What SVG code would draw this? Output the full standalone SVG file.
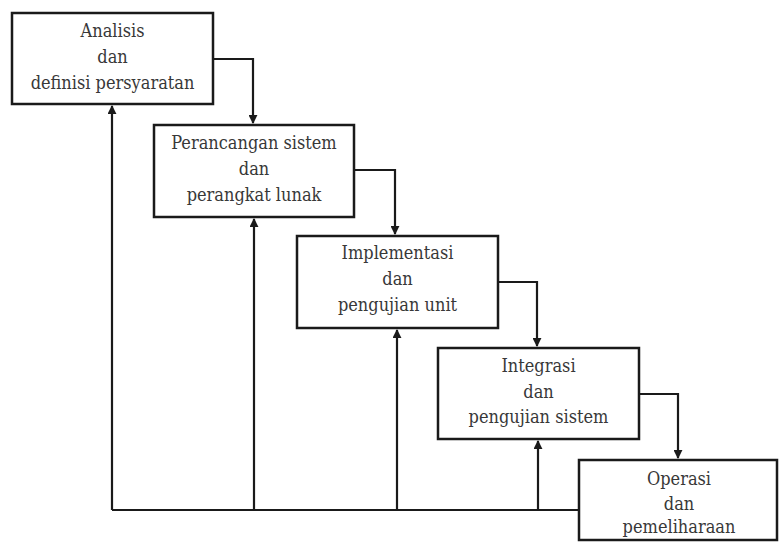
<svg xmlns="http://www.w3.org/2000/svg" width="779" height="552" viewBox="0 0 779 552">
  <style>
    .box { fill: #ffffff; stroke: #1a1a1a; stroke-width: 2.5; }
    .lbl { font-family: 'DejaVu Serif Condensed', 'DejaVu Serif', serif; font-stretch: condensed; font-size: 18px; fill: #383838; text-anchor: middle; }
    .wire { fill: none; stroke: #1a1a1a; stroke-width: 2.2; }
  </style>
  <defs>
    <marker id="arrow" viewBox="0 0 10 10" refX="9" refY="5" markerWidth="9" markerHeight="9" markerUnits="userSpaceOnUse" orient="auto">
      <path d="M0,0 L10,5 L0,10 Z" fill="#1a1a1a"/>
    </marker>
  </defs>
  <rect width="779" height="552" fill="#ffffff"/>

  <g id="connectors">
    <!-- forward flow between stages -->
    <path class="wire" d="M213,59 H253 V123" marker-end="url(#arrow)"/>
    <path class="wire" d="M354,170 H395 V234" marker-end="url(#arrow)"/>
    <path class="wire" d="M498,282 H537 V346" marker-end="url(#arrow)"/>
    <path class="wire" d="M639,394 H678 V458" marker-end="url(#arrow)"/>
    <!-- feedback from operation back to every stage -->
    <path class="wire" d="M579,510 H112"/>
    <path class="wire" d="M112,510 V106" marker-end="url(#arrow)"/>
    <path class="wire" d="M254,510 V219" marker-end="url(#arrow)"/>
    <path class="wire" d="M397,510 V330" marker-end="url(#arrow)"/>
    <path class="wire" d="M538,510 V441" marker-end="url(#arrow)"/>
  </g>

  <g id="analisis">
    <rect class="box" x="12" y="13" width="201" height="91"/>
    <text class="lbl" x="112.5" y="37">Analisis</text>
    <text class="lbl" x="112.5" y="63">dan</text>
    <text class="lbl" x="112.5" y="89">definisi persyaratan</text>
  </g>

  <g id="perancangan">
    <rect class="box" x="154" y="125" width="200" height="92"/>
    <text class="lbl" x="254" y="149">Perancangan sistem</text>
    <text class="lbl" x="254" y="175">dan</text>
    <text class="lbl" x="254" y="201">perangkat lunak</text>
  </g>

  <g id="implementasi">
    <rect class="box" x="297" y="236" width="201" height="92"/>
    <text class="lbl" x="397.5" y="259">Implementasi</text>
    <text class="lbl" x="397.5" y="285">dan</text>
    <text class="lbl" x="397.5" y="311">pengujian unit</text>
  </g>

  <g id="integrasi">
    <rect class="box" x="438" y="348" width="201" height="91"/>
    <text class="lbl" x="538.5" y="372">Integrasi</text>
    <text class="lbl" x="538.5" y="398">dan</text>
    <text class="lbl" x="538.5" y="423">pengujian sistem</text>
  </g>

  <g id="operasi">
    <rect class="box" x="579" y="460" width="198" height="80"/>
    <text class="lbl" x="679" y="485">Operasi</text>
    <text class="lbl" x="679" y="510">dan</text>
    <text class="lbl" x="679" y="533">pemeliharaan</text>
  </g>
</svg>
